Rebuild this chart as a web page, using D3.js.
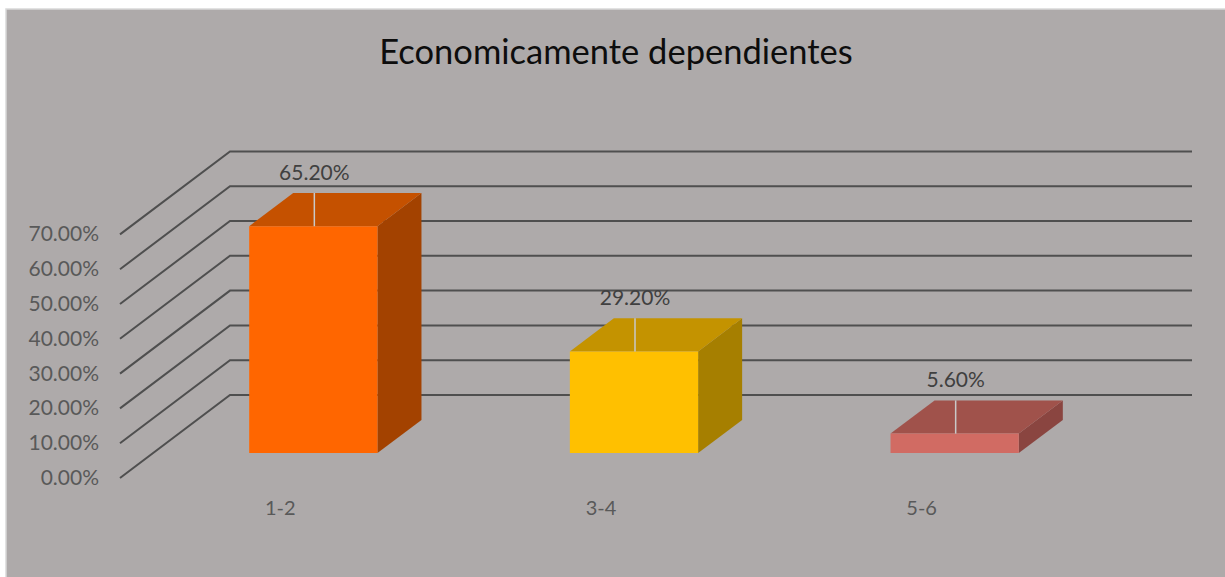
<!DOCTYPE html>
<html>
<head>
<meta charset="utf-8">
<script src="https://cdn.jsdelivr.net/npm/d3@7"></script>
<style>
  body { margin: 0; background: #ffffff; }
  text { font-family: Lato, "Open Sans", sans-serif; }
</style>
</head>
<body>
<script>
//data
var title = "Economicamente dependientes";
var categories = ["1-2", "3-4", "5-6"];
var values = [0.652, 0.292, 0.056];
var valueLabels = ["65.20%", "29.20%", "5.60%"];
var ticks = [0, 0.1, 0.2, 0.3, 0.4, 0.5, 0.6, 0.7];
var tickLabels = ["0.00%", "10.00%", "20.00%", "30.00%", "40.00%", "50.00%", "60.00%", "70.00%"];

//colours for front, top and side of each bar
var frontColors = ["#ff6600", "#ffc000", "#d16b63"];
var topColors = ["#c55100", "#c49300", "#a0524b"];
var sideColors = ["#a34200", "#a67f00", "#8a4540"];

var width = 1225;
var height = 577;

//3d settings: full floor depth offset and the bar depth slice
var depthX = 110, depthY = -83;
var zFront = 0.3, zBack = 0.7;
var floorY = 478;

var svg = d3.select("body").append("svg")
    .attr("width", width)
    .attr("height", height);

//chart background
svg.append("rect")
    .attr("x", 6).attr("y", 9)
    .attr("width", width).attr("height", height)
    .attr("fill", "#aeaaaa")
    .attr("stroke", "#d9d9d9")
    .attr("stroke-width", 1.5);

//scales
var x = d3.scaleBand()
    .domain(categories)
    .range([120, 1082])
    .paddingInner(0.6)
    .paddingOuter(0.3);

var y = d3.scaleLinear()
    .domain([0, 0.7])
    .range([0, 243.6]);

//project a point at floor x, height h and depth z
function pt(px, h, z) {
    return [px + depthX * z, floorY - h + depthY * z];
}

//gridlines along the left wall and the back wall
var grid = svg.append("g");
grid.selectAll("path")
    .data(ticks)
    .enter()
    .append("path")
    .attr("d", function (d) {
        var a = pt(120, y(d), 0), b = pt(120, y(d), 1), c = pt(1082, y(d), 1);
        return "M" + a + "L" + b + "L" + c;
    })
    .attr("fill", "none")
    .attr("stroke", "#4f4f4f")
    .attr("stroke-width", 2);

//tick labels
svg.append("g").selectAll("text")
    .data(ticks)
    .enter()
    .append("text")
    .attr("x", 99)
    .attr("y", function (d) { return floorY - y(d) + 7; })
    .attr("text-anchor", "end")
    .attr("font-size", 21)
    .attr("fill", "#595959")
    .text(function (d, i) { return tickLabels[i]; });

//bars
var bars = svg.append("g").selectAll("g")
    .data(values)
    .enter()
    .append("g");

function poly(points) {
    return "M" + points.join("L") + "Z";
}

bars.append("path")
    .attr("d", function (d, i) {
        var x0 = x(categories[i]), x1 = x0 + x.bandwidth(), h = y(d);
        return poly([pt(x1, 0, zFront), pt(x1, h, zFront), pt(x1, h, zBack), pt(x1, 0, zBack)]);
    })
    .attr("fill", function (d, i) { return sideColors[i]; });

bars.append("path")
    .attr("d", function (d, i) {
        var x0 = x(categories[i]), x1 = x0 + x.bandwidth(), h = y(d);
        return poly([pt(x0, h, zFront), pt(x1, h, zFront), pt(x1, h, zBack), pt(x0, h, zBack)]);
    })
    .attr("fill", function (d, i) { return topColors[i]; });

bars.append("path")
    .attr("d", function (d, i) {
        var x0 = x(categories[i]), x1 = x0 + x.bandwidth(), h = y(d);
        return poly([pt(x0, 0, zFront), pt(x1, 0, zFront), pt(x1, h, zFront), pt(x0, h, zFront)]);
    })
    .attr("fill", function (d, i) { return frontColors[i]; });

//leader lines over the top face
bars.append("path")
    .attr("d", function (d, i) {
        var cx = x(categories[i]) + x.bandwidth() / 2, h = y(d);
        var a = pt(cx, h, zFront), b = pt(cx, h, zBack);
        return "M" + [a[0] + 1, a[1]] + "L" + [a[0] + 1, b[1]];
    })
    .attr("stroke", "#c9c9c9")
    .attr("stroke-width", 1.5);

//value labels
bars.append("text")
    .attr("x", function (d, i) { return pt(x(categories[i]) + x.bandwidth() / 2, 0, zFront)[0] + 1; })
    .attr("y", function (d, i) { return pt(0, y(d), zBack)[1] - 13; })
    .attr("text-anchor", "middle")
    .attr("font-size", 21)
    .attr("fill", "#404040")
    .text(function (d, i) { return valueLabels[i]; });

//category labels
svg.append("g").selectAll("text")
    .data(categories)
    .enter()
    .append("text")
    .attr("x", function (d) { return x(d) + x.bandwidth() / 2; })
    .attr("y", 515)
    .attr("text-anchor", "middle")
    .attr("font-size", 20)
    .attr("fill", "#595959")
    .text(function (d) { return d; });

//title
svg.append("text")
    .attr("x", 616)
    .attr("y", 64)
    .attr("text-anchor", "middle")
    .attr("font-size", 34.5)
    .attr("fill", "#0d0d0d")
    .text(title);
</script>
</body>
</html>
